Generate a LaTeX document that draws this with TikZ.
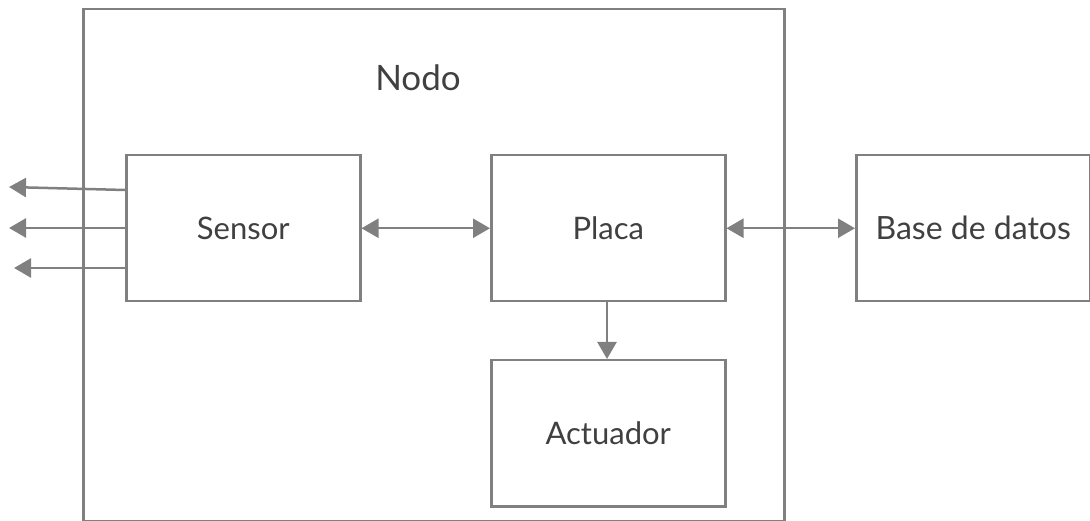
\documentclass[tikz,border=0pt]{standalone}
\usepackage{fontspec}
\setmainfont{Lato}
\usetikzlibrary{arrows.meta}
\definecolor{linegray}{HTML}{808080}
\definecolor{textgray}{HTML}{404040}
\begin{document}
\begin{tikzpicture}[x=1pt,y=-1pt,
  block/.style={draw=linegray, line width=2.5pt, fill=white, minimum width=234pt, minimum height=146pt, inner sep=0pt, font=\fontsize{31}{34}\selectfont, text=textgray},
  tip/.tip={Triangle[length=17pt,width=19pt]},
  link/.style={draw=linegray, line width=2.5pt, -tip},
  biglink/.style={link, tip-tip}]
  \useasboundingbox (0,0) rectangle (1090,521);
  % enclosing node box
  \node[draw=linegray, line width=2.5pt, minimum width=701pt, minimum height=512pt, anchor=north west, inner sep=0pt] (nodo) at (82,8) {};
  \node[font=\fontsize{35}{38}\selectfont, text=textgray] (nodolabel) at (418,78) {Nodo};
  % components
  \node[block, anchor=north west] (sensor) at (125,154) {Sensor};
  \node[block, anchor=north west] (placa) at (490,154) {Placa};
  \node[block, anchor=north west] (actuador) at (490,359) {Actuador};
  \node[block, anchor=north west, font=\fontsize{32}{35}\selectfont] (bd) at (855,154) {Base de datos};
  % sensor outputs
  \coordinate (o1) at (9,187);
  \coordinate (o2) at (9,228);
  \coordinate (o3) at (14,268);
  \draw[link] (sensor.west |- 0,190) -- (o1);
  \draw[link] (sensor.west |- 0,228) -- (o2);
  \draw[link] (sensor.west |- 0,268) -- (o3);
  % connections
  \draw[biglink] (sensor.east) -- (placa.west);
  \draw[biglink] (placa.east) -- (bd.west);
  \draw[link] (placa.south -| 607,0) -- (actuador.north -| 607,0);
\end{tikzpicture}
\end{document}
